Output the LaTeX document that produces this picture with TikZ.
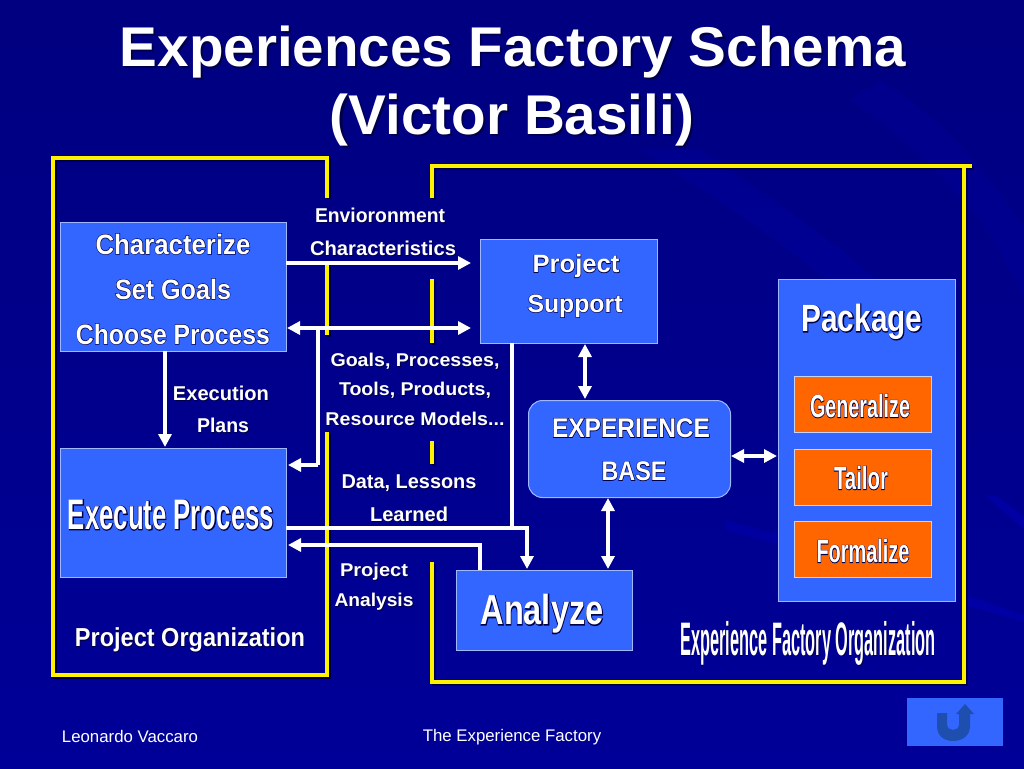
\documentclass[tikz,border=0pt]{standalone}
\usepackage{fontspec}
\usepackage{graphicx}
\setmainfont{Liberation Sans}
\newfontfamily\outfont[FakeBold=4]{Liberation Sans Bold}
\newfontfamily\softfont{Liberation Sans Bold}
\definecolor{bgtop}{HTML}{000080}
\definecolor{bgbot}{HTML}{000098}
\definecolor{boxblue}{HTML}{3366FF}
\definecolor{boxedge}{HTML}{A0B8FF}
\definecolor{boxorange}{HTML}{FF6600}
\definecolor{uarrow}{HTML}{1F4FAE}
\definecolor{rayblue}{HTML}{0000B0}
\definecolor{inkdark}{HTML}{00004A}
% \otext{width}{size}{text}: white text with a dark outline, stretched to a width
\newcommand{\otext}[3]{\fontsize{#2}{#2}\resizebox{#1pt}{\height}{\rlap{\outfont\textcolor{inkdark}{#3}}\softfont #3}}
% \stext[offset]{width}{size}{text}: white text with a dark drop shadow
\newcommand{\stext}[4][1]{\fontsize{#3}{#3}\softfont\resizebox{#2pt}{\height}{\rlap{\kern#1pt\raisebox{-#1pt}{\textcolor{inkdark}{#4}}}#4}}
\usetikzlibrary{arrows.meta}
\tikzset{
 x=1pt,y=-1pt,
 lab/.style={text=white,inner sep=0pt,anchor=center},
 softlab/.style={text=white,inner sep=0pt,anchor=center},
 frame/.style={draw=yellow,line width=4pt,line cap=butt,line join=miter},
 frameshade/.style={draw=inkdark,line width=4pt,line cap=butt,line join=miter,shift={(1.5,1.5)}},
 wire/.style={draw=white,line width=4pt},
 arrow1/.style={wire,-{Triangle[length=13pt,width=13pt]}},
 arrow2/.style={wire,{Triangle[length=13pt,width=13pt]}-{Triangle[length=13pt,width=13pt]}},
 boxx/.style={draw=boxedge,line width=1pt,fill=boxblue,inner sep=0pt,anchor=north west},
 orangebox/.style={draw=boxedge!60!white,line width=1pt,fill=boxorange,inner sep=0pt,anchor=north west},
}
\newcommand{\frames}[1]{%
\draw[#1] (327,198) -- (327,158) -- (53,158) -- (53,675) -- (327,675) -- (327,432);
\draw[#1] (327,263) -- (327,335);
\draw[#1] (432,198) -- (432,166) -- (972,166);
\draw[#1] (964,166) -- (964,682) -- (432,682) -- (432,562);
\draw[#1] (432,279) -- (432,343);
\draw[#1] (432,441) -- (432,464);}
\begin{document}
\begin{tikzpicture}
\useasboundingbox (0,0) rectangle (1024,768);
% background
\fill[top color=bgtop,bottom color=bgbot] (0,0) rectangle (1024,768);
\fill[rayblue,opacity=.25] (640,150) .. controls (800,250) and (900,330) .. (960,420) -- (960,360) .. controls (880,270) and (760,190) .. (700,150) -- cycle;
\fill[rayblue,opacity=.2] (850,100) .. controls (950,170) and (1000,240) .. (1024,300) -- (1024,230) .. controls (990,170) and (930,110) .. (880,80) -- cycle;
\fill[rayblue,opacity=.5] (725,520) -- (780,535) -- (780,545) -- (725,530) -- cycle;
\fill[rayblue,opacity=.6] (965,595) -- (1024,615) -- (1024,622) -- (965,605) -- cycle;
\fill[rayblue,opacity=.6] (985,495) -- (1024,530) -- (1024,516) -- (995,495) -- cycle;
% frames
\frames{frameshade}
\frames{frame}
% boxes
\node[boxx,minimum width=226pt,minimum height=129pt] (char) at (60,222) {};
\node[boxx,minimum width=226pt,minimum height=129pt] (exec) at (60,448) {};
\node[boxx,minimum width=177pt,minimum height=104pt] (supp) at (480,239) {};
\node[boxx,rounded corners=14pt,minimum width=202pt,minimum height=97pt] (base) at (528,400) {};
\node[boxx,minimum width=176pt,minimum height=80pt] (anal) at (456,570) {};
\node[boxx,minimum width=177pt,minimum height=322pt] (pack) at (778,279) {};
\node[orangebox,minimum width=137pt,minimum height=56pt] (gene) at (794,376) {};
\node[orangebox,minimum width=137pt,minimum height=56pt] (tail) at (794,449) {};
\node[orangebox,minimum width=137pt,minimum height=56pt] (form) at (794,521) {};
\node[fill=boxblue,inner sep=0pt,anchor=north west,minimum width=96pt,minimum height=48pt] (back) at (907,698) {};
% u-turn glyph of the button
\fill[uarrow] (970,726) .. controls (970,736) and (962,741) .. (953,741) .. controls (944,741) and (937,736) .. (937,726) -- (937,713) -- (947,713) -- (947,724) .. controls (947,728) and (950,730) .. (953,730) .. controls (956,730) and (959,728) .. (959,724) -- (959,714) -- (956,714) -- (965,704) -- (974,714) -- (970,714) -- cycle;
% connectors
\coordinate (j1) at (318,328);
\coordinate (j2) at (318,465);
\coordinate (j3) at (512,528);
\coordinate (j4) at (527,528);
\coordinate (j5) at (480,545);
\coordinate (p1) at (286,263);
\coordinate (p2) at (286,328);
\coordinate (p3) at (286,528);
\coordinate (p4) at (165,351);
\coordinate (p5) at (585,343);
\coordinate (p6) at (608,497);
\coordinate (p7) at (730,456);
\coordinate (p8) at (512,343);
\draw[arrow1,shorten >=9pt] (p1) -- (supp.west |- p1);
\draw[arrow2,shorten >=9pt,shorten <=1pt] (p2) -- (supp.west |- p2);
\draw[wire,line join=miter] (j1) -- (j2);
\draw[arrow1,shorten >=1pt] (j2) -- (exec.east |- j2);
\draw[arrow1,shorten >=1pt] (p4) -- (p4 |- exec.north);
\draw[wire] (p8) -- (j3);
\draw[arrow1,line join=miter,shorten >=1pt] (p3) -- (j4) -- (j4 |- anal.north);
\draw[arrow1,line join=miter,shorten >=1pt] (j5 |- anal.north) -- (j5) -- (exec.east |- j5);
\draw[arrow2,shorten <=1pt,shorten >=1pt] (p5) -- (p5 |- base.north);
\draw[arrow2,shorten <=1pt,shorten >=1pt] (p6) -- (p6 |- anal.north);
\draw[arrow2,shorten <=1pt,shorten >=1pt] (p7) -- (p7 -| pack.west);
% title
\node[lab] (t1s) at (513,53) {\stext[2]{786}{56}{Experiences Factory Schema}};
\node[lab] (t2s) at (512,121) {\stext[2]{364}{56}{(Victor Basili)}};
% labels inside boxes
\node[lab] (l1) at (173,244) {\otext{155}{28}{Characterize}};
\node[lab] (l2) at (173,289) {\otext{116}{28}{Set Goals}};
\node[lab] (l3) at (173,334) {\otext{194}{28}{Choose Process}};
\node[lab] (l4) at (171,515) {\otext{206}{43}{Execute Process}};
\node[lab] (l5) at (190,640) {\otext{230}{26}{Project Organization}};
\node[lab] (l6) at (576,266) {\otext{87}{25}{Project}};
\node[lab] (l7) at (575,306) {\otext{95}{25}{Support}};
\node[lab] (l8) at (631,428) {\otext{158}{27}{EXPERIENCE}};
\node[lab] (l9) at (634,471) {\otext{65}{27}{BASE}};
\node[lab] (l10) at (542,614) {\otext{123}{42}{Analyze}};
\node[lab] (l11) at (862,322) {\otext{121}{38}{Package}};
\node[lab] (l12) at (860,406) {\otext{100}{32}{Generalize}};
\node[lab] (l13) at (861,478) {\otext{54}{32}{Tailor}};
\node[lab] (l14) at (863,551) {\otext{93}{32}{Formalize}};
\node[lab] (l15) at (808,644) {\stext[1]{255}{47}{Experience Factory Organization}};
% labels on the background
\node[softlab] (s1) at (380,216) {\stext{130}{20}{Envioronment}};
\node[softlab] (s2) at (383,249) {\stext{146}{20}{Characteristics}};
\node[softlab] (s3) at (221,394) {\stext{96}{20}{Execution}};
\node[softlab] (s4) at (223,426) {\stext{52}{20}{Plans}};
\node[softlab] (s5) at (415,362) {\stext{169}{18.5}{Goals, Processes,}};
\node[softlab] (s6) at (415,391) {\stext{152}{18.5}{Tools, Products,}};
\node[softlab] (s7) at (415,419) {\stext{179}{18.5}{Resource Models...}};
\node[softlab] (s8) at (409,484) {\stext{135}{20}{Data, Lessons}};
\node[softlab] (s9) at (409,515) {\stext{78}{20}{Learned}};
\node[softlab] (s10) at (374,572) {\stext{68}{18.5}{Project}};
\node[softlab] (s11) at (374,602) {\stext{79}{18.5}{Analysis}};
% footer
\node[text=white,inner sep=0pt] (f1) at (130,736) {\fontsize{16.8}{16.8}\selectfont Leonardo Vaccaro};
\node[text=white,inner sep=0pt] (f2) at (512,737) {\fontsize{16.8}{16.8}\selectfont The Experience Factory};
\end{tikzpicture}
\end{document}
